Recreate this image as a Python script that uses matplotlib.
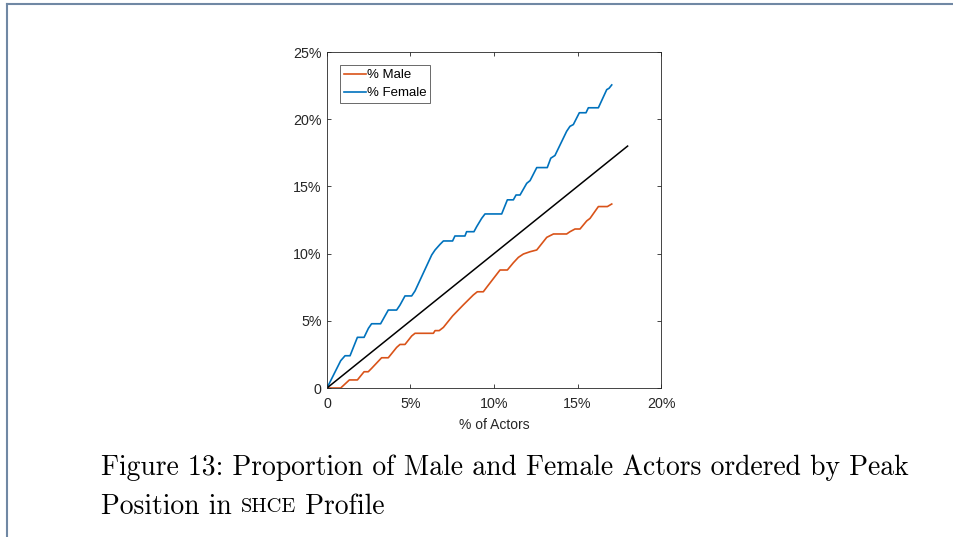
import matplotlib.pyplot as plt
from matplotlib.lines import Line2D

# (values in %)
female_x = [0, 0.82, 1.08, 1.38, 1.82, 2.22, 2.48, 2.67, 3.21, 3.67, 4.17, 4.37, 4.67, 5.07,
            5.27, 6.27, 6.47, 6.77, 6.97, 7.52, 7.66, 8.26, 8.36, 8.8, 8.96, 9.26, 9.46, 10.46,
            10.8, 11.16, 11.32, 11.56, 11.96, 12.16, 12.56, 13.19, 13.4, 13.65, 14.35, 14.55,
            14.75, 15.11, 15.51, 15.65, 16.25, 16.75, 16.89, 17.05]
female_y = [0, 2.03, 2.4, 2.4, 3.77, 3.77, 4.44, 4.78, 4.78, 5.8, 5.8, 6.17, 6.85, 6.85,
            7.22, 9.9, 10.27, 10.69, 10.94, 10.94, 11.31, 11.31, 11.63, 11.63, 12.0, 12.62, 12.95, 12.95,
            14.0, 14.0, 14.36, 14.36, 15.23, 15.43, 16.4, 16.4, 17.1, 17.3, 19.1, 19.47,
            19.6, 20.48, 20.48, 20.85, 20.85, 22.2, 22.3, 22.55]

male_x = [0, 0.82, 1.08, 1.34, 1.82, 2.22, 2.47, 2.67, 3.27, 3.67, 4.17, 4.37, 4.67, 5.07,
          5.27, 6.37, 6.47, 6.72, 6.97, 7.52, 8.16, 8.76, 9.0, 9.36, 9.56, 10.36, 10.8, 11.16,
          11.46, 11.76, 12.16, 12.56, 13.16, 13.56, 14.35, 14.55, 14.85, 15.15, 15.55, 15.75,
          16.25, 16.79, 17.05]
male_y = [0, 0, 0.3, 0.6, 0.6, 1.21, 1.21, 1.46, 2.25, 2.25, 3.02, 3.24, 3.24, 3.87,
          4.07, 4.07, 4.27, 4.27, 4.51, 5.36, 6.18, 6.92, 7.16, 7.16, 7.49, 8.78, 8.78, 9.32,
          9.72, 9.97, 10.14, 10.27, 11.21, 11.46, 11.46, 11.63, 11.83, 11.83, 12.43, 12.62,
          13.5, 13.5, 13.69]

equal_x = [0, 18]
equal_y = [0, 18]

x_ticks = [0, 5, 10, 15, 20]
x_labels = ['0', '5%', '10%', '15%', '20%']
y_ticks = [0, 5, 10, 15, 20, 25]
y_labels = ['0', '5%', '10%', '15%', '20%', '25%']

fig = plt.figure(figsize=(9.54, 5.37), dpi=100)

# page frame
fig.add_artist(Line2D([7.5 / 954, 7.5 / 954], [0, 1 - 3.5 / 537], color='#7088a4', lw=1.5))
fig.add_artist(Line2D([7.5 / 954, 1], [1 - 3.5 / 537, 1 - 3.5 / 537], color='#7088a4', lw=1.5))

ax = fig.add_axes([327 / 954, 1 - 388 / 537, 334 / 954, 336 / 537])
ax.plot(male_x, male_y, color='#D95319', lw=1.2, label='% Male')
ax.plot(female_x, female_y, color='#0072BD', lw=1.2, label='% Female')
ax.plot(equal_x, equal_y, color='black', lw=1.1)

ax.set_xlim(0, 20)
ax.set_ylim(0, 25)
ax.set_xticks(x_ticks)
ax.set_xticklabels(x_labels)
ax.set_yticks(y_ticks)
ax.set_yticklabels(y_labels)
ax.tick_params(direction='in', length=3, width=0.6, top=True, right=True,
               labelsize=10.3, colors='#262626')
ax.tick_params(axis='x', pad=6.5)
ax.tick_params(axis='y', pad=4)
for lbl in ax.get_xticklabels() + ax.get_yticklabels():
    lbl.set_family('Liberation Sans')
for s in ax.spines.values():
    s.set_linewidth(0.6)
    s.set_color('#262626')
ax.set_xlabel('% of Actors', family='Liberation Sans', fontsize=10, color='#262626', labelpad=5)

leg = ax.legend(loc='upper left', prop={'family': 'Liberation Sans', 'size': 9.5},
                frameon=True, fancybox=False, borderpad=0.3, labelspacing=0.42,
                handlelength=1.65, handletextpad=0.05, borderaxespad=1.0)
leg.get_frame().set_edgecolor('#262626')
leg.get_frame().set_linewidth(0.6)

# caption
fs = 19.9
fig.text(101 / 954, 1 - 468 / 537, 'Figure 13: Proportion of Male and Female Actors ordered by Peak',
         family='cmr10', fontsize=fs, va='center', ha='left')
t1 = fig.text(101 / 954, 1 - 507 / 537, 'Position in ', family='cmr10', fontsize=fs,
              va='center', ha='left')
fig.canvas.draw()
r = fig.canvas.get_renderer()
bb = t1.get_window_extent(r)
t2 = fig.text(bb.x1 / 954, 1 - 507 / 537, 'SHCE', family='cmr10', fontsize=fs * 0.74,
              va='center', ha='left')
bb2 = t2.get_window_extent(r)
fig.text(bb2.x1 / 954, 1 - 507 / 537, ' Profile', family='cmr10', fontsize=fs,
         va='center', ha='left')

fig.savefig('out.png', dpi=100)
